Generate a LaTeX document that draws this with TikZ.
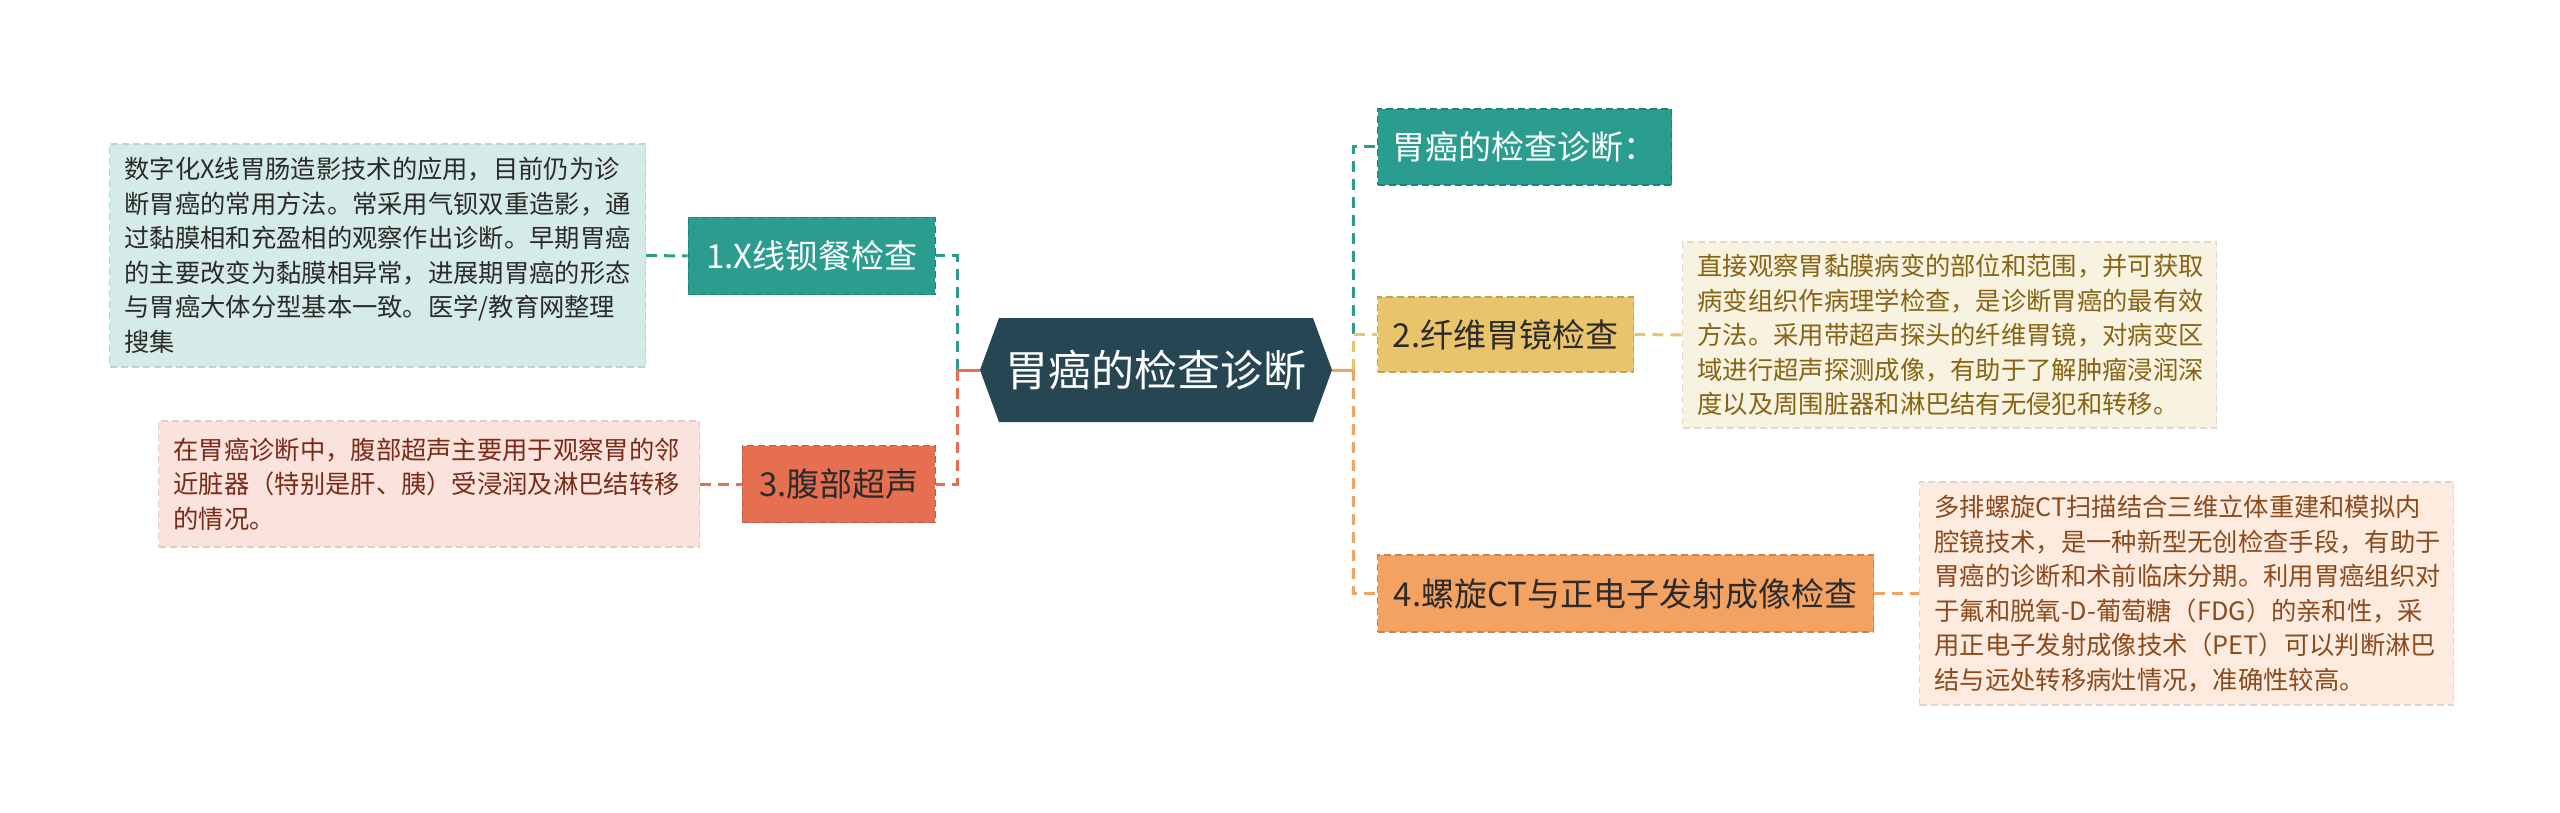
\documentclass[tikz,border=0pt]{standalone}
\usepackage{fontspec}
\setmainfont{Noto Sans CJK SC}
\definecolor{cdark}{HTML}{264653}
\definecolor{cteal}{HTML}{2A9D8F}
\definecolor{cyel}{HTML}{E9C46A}
\definecolor{csand}{HTML}{F4A261}
\definecolor{cburn}{HTML}{E76F51}
\definecolor{bteal}{HTML}{D5EBE8}
\definecolor{byel}{HTML}{F8F2E1}
\definecolor{bburn}{HTML}{FAE3DD}
\definecolor{bsand}{HTML}{FDEBE0}
\definecolor{tyel}{HTML}{876414}
\definecolor{tburn}{HTML}{7A2A16}
\definecolor{tsand}{HTML}{8C4A1C}
\definecolor{tdark}{HTML}{2B2B2B}
\newcommand\fcen{\fontsize{43}{52}\selectfont}
\newcommand\fnode{\fontsize{33}{40}\selectfont}
\newcommand\ftxt{\fontsize{25.3}{34.5}\selectfont}
\begin{document}
\begin{tikzpicture}[x=1pt,y=-1pt,
  topic/.style={fill=#1, draw=#1!82!black, line width=1.4pt, dash pattern=on 7pt off 4pt,
    minimum height=77pt, inner sep=0pt, font=\fnode},
  note/.style={fill=#1, draw=#1!90!black, line width=1.2pt, dash pattern=on 7pt off 4pt,
    inner xsep=15pt, inner ysep=0pt, align=left, font=\ftxt},
  link/.style={draw=#1, line width=3pt, dash pattern=on 11pt off 7pt},
  trunk/.style={draw=#1, line width=3pt}
]
\useasboundingbox (0,0) rectangle (2560,813);
\fill[white] (0,0) rectangle (2560,813);

% central hexagon
\fill[cdark] (980,370) -- (999,318) -- (1313,318) -- (1332,370) -- (1313,422) -- (999,422) -- cycle;
\node[minimum width=352pt, minimum height=104pt, inner sep=0pt, text=white, font=\fcen] (c) at (1156,370) {胃癌的检查诊断};

% left topics
\node[topic=cteal, anchor=east, minimum width=247pt, text=white] (n1) at (936,256) {1.X线钡餐检查};
\node[topic=cburn, anchor=east, minimum width=193pt, text=tdark] (n3) at (936,484) {3.腹部超声};

% right topics
\node[topic=cteal, anchor=west, minimum width=294pt, minimum height=76pt, text=white] (nt) at (1377,147) {胃癌的检查诊断：};
\node[topic=cyel, anchor=west, minimum width=256pt, minimum height=75pt, text=tdark] (n2) at (1377,334.5) {2.纤维胃镜检查};
\node[topic=csand, anchor=west, minimum width=496pt, text=tdark] (n4) at (1377,593.5) {4.螺旋CT与正电子发射成像检查};

% notes
\node[note=bteal, anchor=west, text width=506pt, minimum height=223pt, text=tdark] (b1) at (109,255.5)
 {数字化X线胃肠造影技术的应用，目前仍为诊\\断胃癌的常用方法。常采用气钡双重造影，通\\过黏膜相和充盈相的观察作出诊断。早期胃癌\\的主要改变为黏膜相异常，进展期胃癌的形态\\与胃癌大体分型基本一致。医学/教育网整理\\搜集};
\node[note=bburn, anchor=west, text width=511pt, minimum height=126pt, text=tburn] (b3) at (158,484)
 {在胃癌诊断中，腹部超声主要用于观察胃的邻\\近脏器（特别是肝、胰）受浸润及淋巴结转移\\的情况。};
\node[note=byel, anchor=west, text width=504pt, minimum height=186pt, text=tyel] (b2) at (1682,335)
 {直接观察胃黏膜病变的部位和范围，并可获取\\病变组织作病理学检查，是诊断胃癌的最有效\\方法。采用带超声探头的纤维胃镜，对病变区\\域进行超声探测成像，有助于了解肿瘤浸润深\\度以及周围脏器和淋巴结有无侵犯和转移。};
\node[note=bsand, anchor=west, text width=504pt, minimum height=223pt, text=tsand] (b4) at (1919,593.5)
 {多排螺旋CT扫描结合三维立体重建和模拟内\\腔镜技术，是一种新型无创检查手段，有助于\\胃癌的诊断和术前临床分期。利用胃癌组织对\\于氟和脱氧-D-葡萄糖（FDG）的亲和性，采\\用正电子发射成像技术（PET）可以判断淋巴\\结与远处转移病灶情况，准确性较高。};

% buses
\coordinate (lb) at (957,370);
\coordinate (rb) at (1353,370);

\draw[link=cteal] (lb) |- (n1.east);
\draw[link=cburn] (lb) |- (n3.east);
\draw[trunk=cburn] (c.west) -- (lb);

\draw[link=cteal] (rb) |- (nt.west);
\draw[link=cyel] (rb) |- (n2.west);
\draw[link=csand] (rb) |- (n4.west);
\draw[trunk=csand] (c.east) -- (rb);

\draw[link=cteal] (b1.east) -- (n1.west);
\draw[link=cburn] (b3.east) -- (n3.west);
\draw[link=cyel] (n2.east) -- (b2.west);
\draw[link=csand] (n4.east) -- (b4.west);
\end{tikzpicture}
\end{document}
